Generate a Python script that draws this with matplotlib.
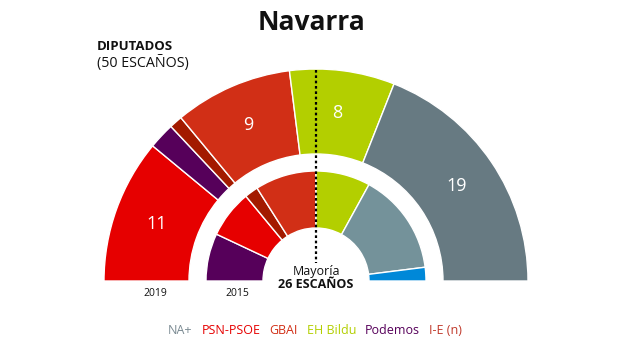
import numpy as np
import matplotlib
matplotlib.use("Agg")
import matplotlib.pyplot as plt
from matplotlib.patches import Wedge

plt.rcParams['font.family'] = ['Open Sans', 'DejaVu Sans']

title = "Navarra"
total_seats = 50
majority = 26

parties_2019 = ['PSN-PSOE', 'Podemos', 'I-E', 'GBAI', 'EH Bildu', 'NA+']
seats_2019 = [11, 2, 1, 9, 8, 19]
colors_2019 = ['#e60000', '#56005a', '#a31a00', '#d12f16', '#b3cf00', '#677a82']

parties_2015 = ['Podemos', 'PSN-PSOE', 'I-E', 'GBAI', 'EH Bildu', 'UPN', 'PP']
seats_2015 = [7, 7, 2, 9, 8, 15, 2]
colors_2015 = ['#56005a', '#e60000', '#a31a00', '#d12f16', '#b3cf00', '#74929a', '#0088d8']

legend_labels = ['NA+', 'PSN-PSOE', 'GBAI', 'EH Bildu', 'Podemos', 'I-E (n)']
legend_colors = ['#7a8a92', '#e60000', '#d12f16', '#b3cf00', '#56005a', '#c0392b']

W, H = 624, 349
fig = plt.figure(figsize=(W / 100, H / 100), dpi=100)
ax = fig.add_axes([0, 0, 1, 1])
ax.set_xlim(0, W)
ax.set_ylim(0, H)
ax.axis('off')

cx, cy = 316, H - 281


def ring(seats, colors, r_out, r_in, labels=False):
    cum = np.concatenate([[0], np.cumsum(seats)])
    for i, s in enumerate(seats):
        t2 = 180 - cum[i] / total_seats * 180
        t1 = 180 - cum[i + 1] / total_seats * 180
        ax.add_patch(Wedge((cx, cy), r_out, t1, t2, width=r_out - r_in,
                           facecolor=colors[i], edgecolor='white', linewidth=1.0))
        if labels and s >= 5:
            mid = np.deg2rad((t1 + t2) / 2)
            rm = (r_out + r_in) / 2
            ax.text(cx + rm * np.cos(mid), cy + rm * np.sin(mid), str(s),
                    color='white', fontsize=13, ha='center', va='center')


ring(seats_2019, colors_2019, 212, 127, labels=True)
ring(seats_2015, colors_2015, 110, 53)

# majority dotted line
ax.plot([cx, cx], [H - 70, H - 263], color='black', linestyle=(0, (1.2, 1.2)),
        linewidth=1.6)

ax.text(cx, H - 272, 'Mayoría', ha='center', va='center', fontsize=9, color='#111111')
ax.text(cx, H - 285, f'{majority} ESCAÑOS', ha='center', va='center', fontsize=9,
        fontweight='bold', color='#111111')

ax.text(155, H - 293, '2019', ha='center', va='center', fontsize=7.5, color='#111111')
ax.text(237, H - 293, '2015', ha='center', va='center', fontsize=7.5, color='#111111')

ax.text(312, H - 22, title, ha='center', va='center', fontsize=19,
        fontweight='bold', color='#111111')
ax.text(97, H - 47, 'DIPUTADOS', ha='left', va='center', fontsize=9.5,
        fontweight='bold', color='#111111')
ax.text(97, H - 63, f'({total_seats} ESCAÑOS)', ha='left', va='center', fontsize=10.3,
        color='#111111')

# legend
fig.canvas.draw()
renderer = fig.canvas.get_renderer()
gap = 9
widths = []
txts = []
for lab, col in zip(legend_labels, legend_colors):
    t = ax.text(0, H - 331, lab, ha='left', va='center', fontsize=9, color=col)
    bb = t.get_window_extent(renderer=renderer)
    widths.append(bb.width)
    txts.append(t)
total_w = sum(widths) + gap * (len(widths) - 1)
x = 315 - total_w / 2
for t, w in zip(txts, widths):
    t.set_x(x)
    x += w + gap

fig.savefig('out.png', dpi=100, facecolor='white')
